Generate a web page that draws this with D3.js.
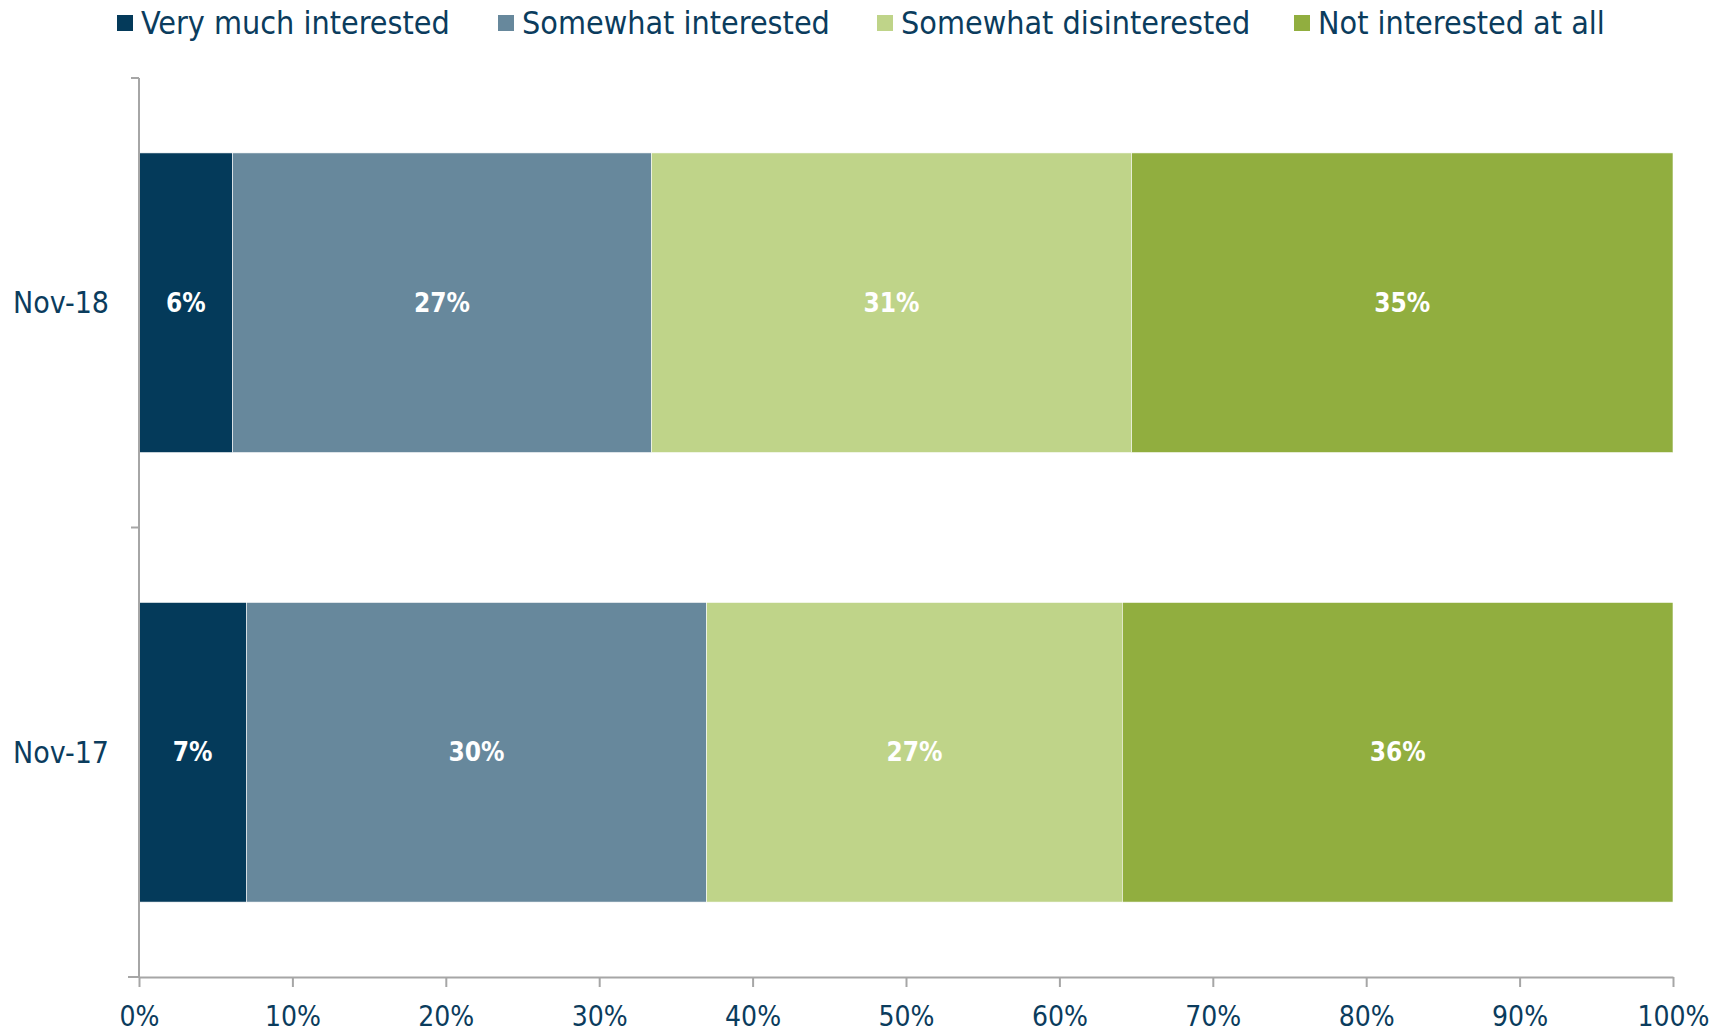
<!DOCTYPE html>
<html>
<head>
<meta charset="utf-8">
<script src="https://cdn.jsdelivr.net/npm/d3@7"></script>
<style>
  body { margin: 0; background: #fff; }
  svg text { font-family: "DejaVu Sans Condensed", "DejaVu Sans", sans-serif; font-stretch: condensed; fill: #0b3c5d; }
  .axis path, .axis line { stroke: #a6a6a6; stroke-width: 2; }
  .axis text { font-size: 28px; }
  .barlabel { fill: #fff; font-weight: bold; font-size: 26px; }
</style>
</head>
<body>
<svg width="1725" height="1034"></svg>
<script>
var periods = ["Nov-18", "Nov-17"];
var series = ["Very much interested", "Somewhat interested", "Somewhat disinterested", "Not interested at all"];
var colors = ["#043a5a", "#67889c", "#bfd489", "#91ae3f"];
var nov18 = [6.1, 27.3, 31.3, 35.3];
var nov17 = [7.0, 30.0, 27.1, 35.9];
var labels18 = ["6%", "27%", "31%", "35%"];
var labels17 = ["7%", "30%", "27%", "36%"];
var xTicks = [0, 10, 20, 30, 40, 50, 60, 70, 80, 90, 100];

var svg = d3.select("svg"),
  margin = { left: 139, right: 52, top: 78, bottom: 57 },
  width = svg.attr("width") - margin.left - margin.right,
  height = svg.attr("height") - margin.top - margin.bottom,
  g = svg.append("g")
    .attr("transform", "translate(" + margin.left + "," + margin.top + ")");

var x = d3.scaleLinear().domain([0, 100]).range([0, width]);
var y = d3.scaleBand().domain(periods).range([0, height])
  .paddingInner(1 / 3).paddingOuter(1 / 6);

var rows = [
  { period: "Nov-18", values: nov18, labels: labels18 },
  { period: "Nov-17", values: nov17, labels: labels17 }
];

var color = d3.scaleOrdinal().domain(series).range(colors);

// stack each row into segments
rows.forEach(function(r) {
  var acc = 0;
  r.segs = r.values.map(function(v, i) {
    var s = { key: series[i], x0: acc, x1: acc + v, label: r.labels[i] };
    acc += v;
    return s;
  });
});

var row = g.selectAll("g.row")
  .data(rows)
  .enter()
  .append("g")
  .attr("class", "row")
  .attr("transform", function(d) { return "translate(0," + y(d.period) + ")"; });

row.selectAll("rect")
  .data(function(d) { return d.segs; })
  .enter()
  .append("rect")
  .attr("x", function(d) { return x(d.x0); })
  .attr("width", function(d) { return x(d.x1) - x(d.x0); })
  .attr("height", y.bandwidth())
  .style("fill", function(d) { return color(d.key); })
  .style("stroke", "#fff")
  .style("stroke-width", 0.6);

row.selectAll("text")
  .data(function(d) { return d.segs; })
  .enter()
  .append("text")
  .attr("class", "barlabel")
  .attr("x", function(d) { return (x(d.x0) + x(d.x1)) / 2; })
  .attr("y", y.bandwidth() / 2)
  .attr("dy", "0.35em")
  .attr("text-anchor", "middle")
  .text(function(d) { return d.label; });

// x axis
g.append("g")
  .attr("class", "axis axis_x")
  .attr("transform", "translate(0," + height + ")")
  .call(d3.axisBottom(x).tickValues(xTicks).tickSize(10).tickSizeOuter(0).tickPadding(18)
    .tickFormat(function(d) { return d + "%"; }))
  .call(function(a) { a.selectAll("text").attr("dy", "0.75em"); });

// y axis: ticks at band boundaries
var yBounds = [0, height / 2, height];
var yAxis = g.append("g").attr("class", "axis axis_y");
yAxis.append("line")
  .attr("x1", 0).attr("x2", 0).attr("y1", 0).attr("y2", height);
yAxis.selectAll("line.tk")
  .data(yBounds)
  .enter()
  .append("line")
  .attr("class", "tk")
  .attr("x1", -8).attr("x2", 0)
  .attr("y1", function(d) { return d; })
  .attr("y2", function(d) { return d; });
g.append("line")
  .attr("x1", -11).attr("x2", 0).attr("y1", height).attr("y2", height)
  .style("stroke", "#a6a6a6").style("stroke-width", 2);

g.selectAll("text.cat")
  .data(periods)
  .enter()
  .append("text")
  .attr("class", "cat")
  .attr("x", -30)
  .attr("y", function(d) { return y(d) + y.bandwidth() / 2; })
  .attr("dy", "0.35em")
  .attr("text-anchor", "end")
  .style("font-size", "30px")
  .text(function(d) { return d; });

// legend
var legendX = [117, 498, 877, 1294];
var legend = svg.selectAll("g.legend")
  .data(series)
  .enter()
  .append("g")
  .attr("class", "legend")
  .attr("transform", function(d, i) { return "translate(" + legendX[i] + ",23)"; });

legend.append("rect")
  .attr("x", 0).attr("y", -8)
  .attr("width", 16).attr("height", 16)
  .style("fill", function(d) { return color(d); });

legend.append("text")
  .attr("x", 24)
  .attr("dy", "0.35em")
  .style("font-size", "32px")
  .text(function(d) { return d; });
</script>
</body>
</html>
